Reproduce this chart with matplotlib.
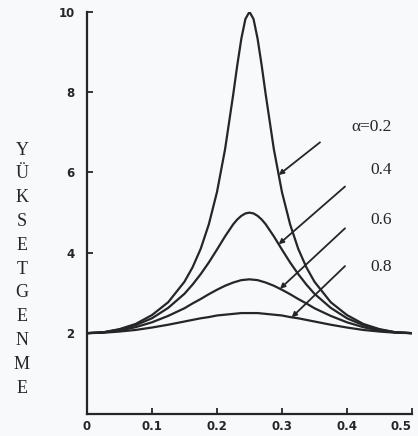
import numpy as np
import matplotlib as mpl
mpl.use('Agg')
import matplotlib.pyplot as plt

#
#--- values
#
xval = [0.0, 0.025, 0.05, 0.075, 0.1, 0.125, 0.15, 0.1625, 0.175, 0.1875, 0.2,
        0.2125, 0.225, 0.23125, 0.2375, 0.24375, 0.25, 0.25625, 0.2625, 0.26875,
        0.275, 0.2875, 0.3, 0.3125, 0.325, 0.3375, 0.35, 0.375, 0.4, 0.425,
        0.45, 0.475, 0.5]

a02 = [2.00, 2.02, 2.10, 2.23, 2.45, 2.77, 3.28, 3.64, 4.10, 4.71, 5.51,
       6.58, 7.94, 8.67, 9.33, 9.82, 10.00, 9.82, 9.33, 8.67,
       7.94, 6.58, 5.51, 4.71, 4.10, 3.64, 3.28, 2.77, 2.45, 2.23,
       2.10, 2.02, 2.00]

a04 = [2.00, 2.02, 2.09, 2.20, 2.37, 2.63, 2.98, 3.21, 3.47, 3.76, 4.08,
       4.41, 4.71, 4.83, 4.92, 4.98, 5.00, 4.98, 4.92, 4.83,
       4.71, 4.41, 4.08, 3.76, 3.47, 3.21, 2.98, 2.63, 2.37, 2.20,
       2.09, 2.02, 2.00]

a06 = [2.00, 2.02, 2.06, 2.15, 2.27, 2.43, 2.62, 2.74, 2.85, 2.97, 3.08,
       3.18, 3.26, 3.29, 3.32, 3.33, 3.34, 3.33, 3.32, 3.29,
       3.26, 3.18, 3.08, 2.97, 2.85, 2.74, 2.62, 2.43, 2.27, 2.15,
       2.06, 2.02, 2.00]

a08 = [2.00, 2.01, 2.04, 2.08, 2.14, 2.21, 2.29, 2.33, 2.37, 2.40, 2.44,
       2.46, 2.48, 2.49, 2.50, 2.50, 2.50, 2.50, 2.50, 2.49,
       2.48, 2.46, 2.44, 2.40, 2.37, 2.33, 2.29, 2.21, 2.14, 2.08,
       2.04, 2.01, 2.00]

curves   = [a02, a04, a06, a08]
c_labels = ['\u03b1=0.2', '0.4', '0.6', '0.8']

xticks  = [0.0, 0.1, 0.2, 0.3, 0.4, 0.5]
xtlabel = ['0', '0.1', '0.2', '0.3', '0.4', '0.5']
yticks  = [2, 4, 6, 8, 10]
ytlabel = ['2', '4', '6', '8', '10']

ylabel  = 'YÜKSETGENME'

#-------------------------------------------------------------------------------------
#-- plot_amp: draw the amplification curves                                         --
#-------------------------------------------------------------------------------------

def plot_amp():
    """
    draw the amplification curves with the labeled leader lines
    output: out.png
    """
    ink = '#262626'
    bg  = '#f8f9fb'

    fig = plt.figure(figsize=(4.18, 4.36), dpi=100, facecolor=bg)
    ax  = fig.add_axes([0.208, 0.0516, 0.7776, 0.9214], facecolor=bg)
#
#--- curves
#
    for ydata in curves:
        ax.plot(xval, ydata, color=ink, lw=1.6, solid_capstyle='round',
                solid_joinstyle='round')
#
#--- leader lines and labels
#
    arrow_x  = [0.295, 0.295, 0.297, 0.315]
    start_xy = [(0.3585, 6.75), (0.397, 5.65), (0.397, 4.61), (0.397, 3.67)]
    text_y   = [7.12, 6.05, 4.81, 3.64]

    for k in range(len(curves)):
        yend = np.interp(arrow_x[k], xval, curves[k])
        ax.annotate('', xy=(arrow_x[k], yend), xytext=start_xy[k],
                    arrowprops=dict(arrowstyle='-|>', color=ink, lw=1.3,
                                    mutation_scale=7, shrinkA=0, shrinkB=0))
        ax.text(0.469, text_y[k], c_labels[k], ha='right', va='center',
                fontsize=12.5, family='Liberation Serif', color=ink)
#
#--- axes
#
    ax.set_xlim(0, 0.5)
    ax.set_ylim(0, 10)
    ax.spines['top'].set_visible(False)
    ax.spines['right'].set_visible(False)
    for side in ['left', 'bottom']:
        ax.spines[side].set_linewidth(1.6)
        ax.spines[side].set_color(ink)

    ax.set_xticks(xticks)
    ax.set_xticklabels(xtlabel, fontsize=8.5, fontweight='bold')
    ax.set_yticks(yticks)
    ax.set_yticklabels(ytlabel, fontsize=8.5, fontweight='bold')
    ax.tick_params(direction='in', length=4, width=1.3, colors=ink)
    ax.tick_params(axis='x', pad=5)
    ax.tick_params(axis='y', pad=9)
#
#--- keep the last x label inside the figure
#
    xlabs = ax.get_xticklabels()
    xlabs[-1].set_horizontalalignment('right')
#
#--- vertical stacked y label
#
    for i, ch in enumerate(ylabel):
        py = 150 + i * 23.8
        fig.text(0.0526, 1.0 - py / 436.0, ch, ha='center', va='center',
                 fontsize=13, family='Liberation Serif', color=ink)

    plt.savefig('out.png', dpi=100, facecolor=bg)

#--------------------------------------------------------------------------------------

if __name__ == '__main__':

    plot_amp()
